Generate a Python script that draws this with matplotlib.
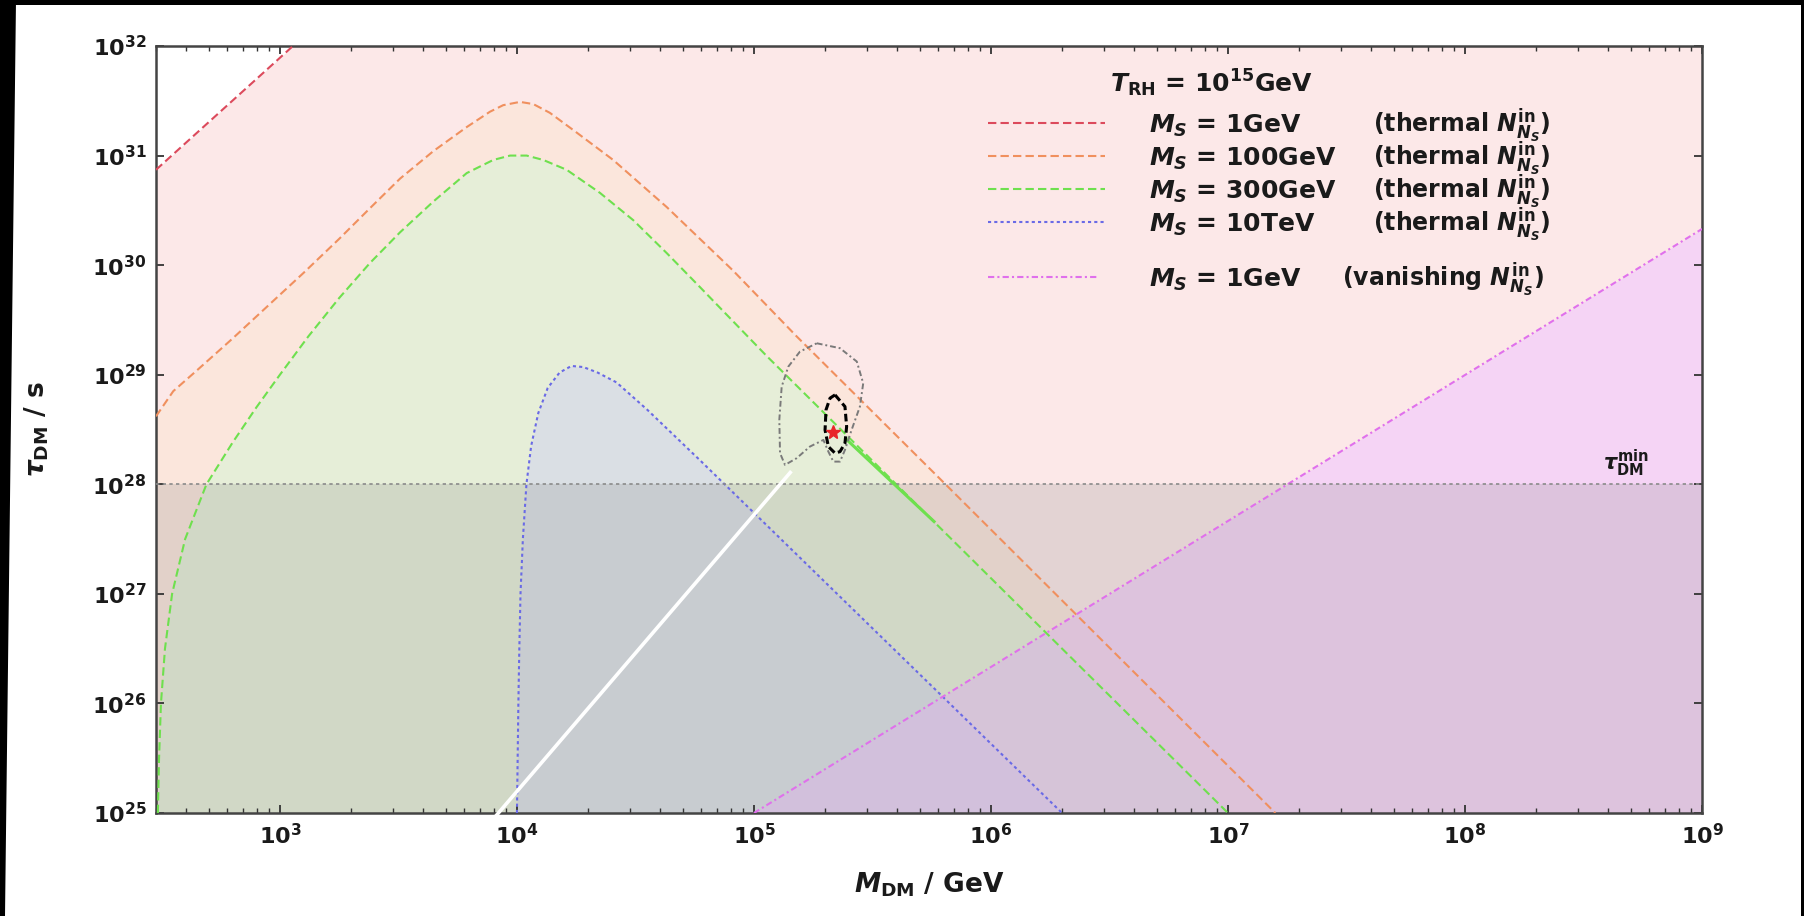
import numpy as np
import matplotlib
matplotlib.use('Agg')
import matplotlib.pyplot as plt
from matplotlib.patches import Polygon
from matplotlib.ticker import FixedLocator, FixedFormatter, LogLocator, NullLocator

plt.rcParams['font.family'] = ['DejaVu Sans']
plt.rcParams['font.weight'] = 'bold'
plt.rcParams['axes.labelweight'] = 'bold'
plt.rcParams['mathtext.fontset'] = 'custom'
plt.rcParams['mathtext.rm'] = 'DejaVu Sans:bold'
plt.rcParams['mathtext.it'] = 'DejaVu Sans:italic:bold'
plt.rcParams['mathtext.bf'] = 'DejaVu Sans:bold'
plt.rcParams['mathtext.sf'] = 'DejaVu Sans:bold'

# curves, as log10(M_DM/GeV) and log10(tau_DM/s)
red_logm = [2.477, 3.055, 3.20]
red_logtau = [30.87, 32.0, 32.28]

orange_logm = [2.477, 2.55, 2.65, 2.80, 2.95, 3.10, 3.25, 3.38, 3.507, 3.647, 3.788,
               3.886, 3.942, 4.013, 4.069, 4.139, 4.252, 4.406, 4.632, 4.912, 5.180, 5.808, 7.20]
orange_logtau = [28.62, 28.85, 29.04, 29.33, 29.63, 29.93, 30.24, 30.52, 30.79, 31.04, 31.26,
                 31.40, 31.46, 31.49, 31.47, 31.39, 31.21, 30.96, 30.53, 29.95, 29.35, 28.0, 25.0]

green_logm = [2.485, 2.49, 2.498, 2.515, 2.545, 2.60, 2.69, 2.80, 2.90, 3.00, 3.12, 3.25, 3.38,
              3.507, 3.647, 3.788, 3.90, 3.971, 4.041, 4.111, 4.21, 4.35, 4.491, 4.632, 4.772,
              5.054, 5.60, 7.0]
green_logtau = [25.0, 25.5, 26.0, 26.5, 27.0, 27.5, 28.0, 28.38, 28.70, 29.0, 29.35, 29.70, 30.02,
                30.30, 30.58, 30.84, 30.96, 31.0, 31.0, 30.96, 30.87, 30.66, 30.41, 30.11, 29.80,
                29.17, 28.0, 25.0]

# solid piece of the green curve below the best-fit point
green_solid_logm = [5.39, 5.76]
green_solid_logtau = [28.41, 27.66]

blue_logm = [4.0, 4.003, 4.006, 4.01, 4.015, 4.025, 4.04, 4.06, 4.09, 4.13, 4.18, 4.23,
             4.28, 4.34, 4.42, 4.55, 4.772, 6.30]
blue_logtau = [25.0, 25.5, 26.0, 26.5, 27.0, 27.5, 28.0, 28.35, 28.65, 28.88, 29.02, 29.08,
               29.07, 29.02, 28.93, 28.68, 28.22, 25.0]

magenta_logm = [5.0, 9.0]
magenta_logtau = [25.0, 30.33]

tau_min = 1e28

# fit contours and best-fit point
outer_logm = [5.265, 5.363, 5.434, 5.461, 5.447, 5.412, 5.384, 5.363, 5.335, 5.314, 5.293,
              5.236, 5.180, 5.131, 5.110, 5.107, 5.117, 5.145, 5.194, 5.265]
outer_logtau = [29.287, 29.242, 29.120, 28.922, 28.709, 28.496, 28.314, 28.207, 28.207, 28.298,
                28.405, 28.344, 28.238, 28.177, 28.284, 28.588, 28.891, 29.074, 29.211, 29.287]
inner_logm = [5.342, 5.384, 5.391, 5.384, 5.363, 5.342, 5.314, 5.300, 5.304, 5.321, 5.342]
inner_logtau = [28.816, 28.709, 28.526, 28.375, 28.298, 28.284, 28.344, 28.496, 28.679, 28.786, 28.816]
best_logm = 5.335
best_logtau = 28.48

# white pointer line
pointer_logm = [3.91, 5.158]
pointer_logtau = [24.97, 28.12]

xtick_exp = [3, 4, 5, 6, 7, 8, 9]
ytick_exp = [25, 26, 27, 28, 29, 30, 31, 32]


def pw(a):
    return np.power(10.0, np.asarray(a, dtype=float))


fig = plt.figure(figsize=(18.04, 9.16), dpi=100)
ax = fig.add_axes([156 / 1804, 103 / 916, 1546 / 1804, 767 / 916])
ax.set_xscale('log')
ax.set_yscale('log')
ax.set_xlim(300, 1e9)
ax.set_ylim(1e25, 1e32)

c_red = '#dc4a5c'
c_orange = '#f0905e'
c_green = '#6ee04e'
c_blue = '#6a6ae6'
c_mag = '#e070ec'

# filled regions
rm, rt = pw(red_logm), pw(red_logtau)
ax.fill_between(np.r_[rm, 1e9], 1e25, np.r_[rt, rt[-1]], color='#fce8e8', lw=0, zorder=1)
ax.fill_between(pw(orange_logm), 1e25, pw(orange_logtau), color='#fbe6dc', lw=0, zorder=1.1)
ax.fill_between(pw(green_logm), 1e25, pw(green_logtau), color='#e6eed8', lw=0, zorder=1.2)
ax.fill_between(pw(blue_logm), 1e25, pw(blue_logtau), color='#dadfe4', lw=0, zorder=1.3)
ax.fill_between(pw(magenta_logm), 1e25, pw(magenta_logtau), color='#f1c7fe', alpha=0.6, lw=0, zorder=1.4)
ax.axhspan(1e25, tau_min, color='#808080', alpha=0.2, lw=0, zorder=1.5)

# curves
ax.plot(rm, rt, color=c_red, lw=1.5, ls=(0, (4, 2)), zorder=3)
ax.plot(pw(orange_logm), pw(orange_logtau), color=c_orange, lw=1.5, ls=(0, (4, 2)), zorder=3)
ax.plot(pw(green_logm), pw(green_logtau), color=c_green, lw=1.5, ls=(0, (4, 2)), zorder=3)
ax.plot(pw(green_solid_logm), pw(green_solid_logtau), color=c_green, lw=2.2, zorder=3.1)
ax.plot(pw(blue_logm), pw(blue_logtau), color=c_blue, lw=1.5, ls=(0, (1.5, 1.5)), zorder=3)
ax.plot(pw(magenta_logm), pw(magenta_logtau), color=c_mag, lw=1.5, ls=(0, (3, 1.5, 1, 1.5)), zorder=3)
ax.axhline(tau_min, color='#8a8a8a', lw=1.2, ls=(0, (2, 2)), zorder=3)

ax.plot(pw(outer_logm), pw(outer_logtau), color='#7a7a7a', lw=1.4, ls=(0, (3, 1.5, 1, 1.5)), zorder=4)
ax.plot(pw(inner_logm), pw(inner_logtau), color='black', lw=2.2, ls=(0, (2.5, 1.2)), zorder=4)
ax.plot([pw(best_logm)], [pw(best_logtau)], marker='*', color='#e8262a', ms=10, mec='#e8262a', zorder=5)

ax.plot(pw(pointer_logm), pw(pointer_logtau), color='white', lw=2.6, solid_capstyle='butt',
        clip_on=False, zorder=6)

# legend (drawn by hand to keep the two text columns)
rows_y = [0.896, 0.853, 0.810, 0.767, 0.695]
line_y = [0.900, 0.857, 0.814, 0.771, 0.699]
row_col = [c_red, c_orange, c_green, c_blue, c_mag]
row_ls = [(0, (4, 2)), (0, (4, 2)), (0, (4, 2)), (0, (1.5, 1.5)), (0, (3, 1.5, 1, 1.5))]
row_ms = ['1GeV', '100GeV', '300GeV', '10TeV', '1GeV']
row_note = ['thermal', 'thermal', 'thermal', 'thermal', 'vanishing']
note_x = [0.787, 0.787, 0.787, 0.787, 0.767]
line_x1 = [0.614, 0.614, 0.614, 0.614, 0.609]
for y, ly, c, ls, ms, note, nx, x1 in zip(rows_y, line_y, row_col, row_ls, row_ms, row_note,
                                          note_x, line_x1):
    ax.plot([0.538, x1], [ly, ly], transform=ax.transAxes, color=c, lw=1.5, ls=ls, zorder=7)
    ax.text(0.642, y, r'$M_S$ = ' + ms, transform=ax.transAxes, fontsize=18,
            ha='left', va='center', color='#1a1a1a', zorder=7)
    ax.text(nx, y, '(' + note + r' $N^{\rm in}_{N_S}$)', transform=ax.transAxes, fontsize=17,
            ha='left', va='center', color='#1a1a1a', zorder=7)
ax.text(0.617, 0.951, r'$T_{\rm RH}$ = 10$^{15}$GeV', transform=ax.transAxes, fontsize=18,
        ha='left', va='center', color='#1a1a1a', zorder=7)
ax.text(0.951, 0.456, r'$\tau_{\rm DM}^{\rm min}$', transform=ax.transAxes, fontsize=15,
        ha='center', va='center', color='#1a1a1a', zorder=7)

# axes styling
ax.xaxis.set_major_locator(FixedLocator([10.0 ** e for e in xtick_exp]))
ax.xaxis.set_major_formatter(FixedFormatter([r'$10^{%d}$' % e for e in xtick_exp]))
ax.xaxis.set_minor_locator(LogLocator(base=10, subs=np.arange(2, 10), numticks=100))
ax.yaxis.set_major_locator(FixedLocator([10.0 ** e for e in ytick_exp]))
ax.yaxis.set_major_formatter(FixedFormatter([r'$10^{%d}$' % e for e in ytick_exp]))
ax.yaxis.set_minor_locator(NullLocator())
ax.tick_params(which='both', direction='in', top=True, right=True, colors='#333333',
               labelcolor='#1a1a1a', labelsize=16, pad=7)
ax.tick_params(which='major', length=6, width=1.3)
ax.tick_params(which='minor', length=3.5, width=1.0)
for s in ax.spines.values():
    s.set_color('#444444')
    s.set_linewidth(1.8)

ax.set_xlabel(r'$M_{\rm DM}$ / GeV', fontsize=19, color='#1a1a1a', fontweight='bold')
ax.set_ylabel(r'$\tau_{\rm DM}$ / s', fontsize=19, color='#1a1a1a', fontweight='bold')
ax.xaxis.set_label_coords(0.5, -0.075)
ax.yaxis.set_label_coords(-0.068, 0.5)

# black frame of the screenshot
W, H = 1804.0, 916.0
fig.add_artist(Polygon([(0, 1), (16 / W, 1), (5 / W, 0), (0, 0)], closed=True,
                       transform=fig.transFigure, color='black', lw=0))
fig.add_artist(Polygon([(0, 1), (1, 1), (1, 1 - 5 / H), (0, 1 - 5 / H)], closed=True,
                       transform=fig.transFigure, color='black', lw=0))
fig.add_artist(Polygon([(1 - 3 / W, 1), (1, 1), (1, 0), (1 - 3 / W, 0)], closed=True,
                       transform=fig.transFigure, color='black', lw=0))

fig.savefig('out.png', dpi=100, facecolor='white')
